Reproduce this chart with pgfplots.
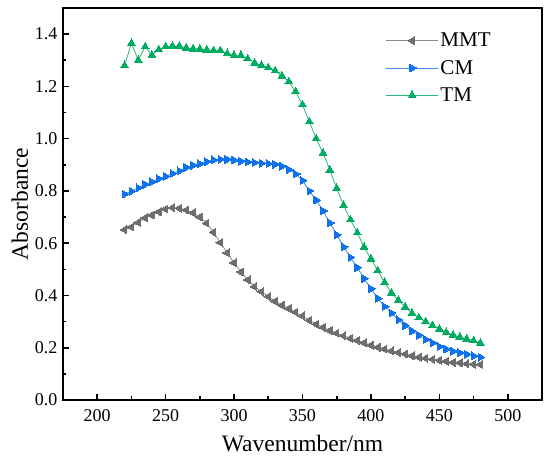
\documentclass[border=0pt]{standalone}
\usepackage{pgfplots}
\pgfplotsset{compat=1.18}
\usepackage{pgfplotstable}
\usepackage{fontspec}
\setmainfont{Liberation Serif}
\definecolor{cMMT}{RGB}{110,110,110}
\definecolor{cCM}{RGB}{16,114,232}
\definecolor{cTM}{RGB}{0,172,95}

\pgfplotstableread{
x y
220 0.652
225 0.662
230 0.680
235 0.697
240 0.708
245 0.720
250 0.731
255 0.736
260 0.734
265 0.727
270 0.717
275 0.700
280 0.677
285 0.642
290 0.603
295 0.563
300 0.525
305 0.490
310 0.460
315 0.434
320 0.415
325 0.396
330 0.378
335 0.363
340 0.350
345 0.336
350 0.322
355 0.305
360 0.290
365 0.278
370 0.266
375 0.256
380 0.246
385 0.236
390 0.228
395 0.219
400 0.210
405 0.202
410 0.195
415 0.188
420 0.182
425 0.176
430 0.169
435 0.164
440 0.160
445 0.156
450 0.152
455 0.148
460 0.144
465 0.142
470 0.139
475 0.137
480 0.136
}\mmt

\pgfplotstableread{
x y
220 0.788
225 0.799
230 0.812
235 0.825
240 0.835
245 0.847
250 0.856
255 0.867
260 0.877
265 0.890
270 0.898
275 0.904
280 0.912
285 0.919
290 0.921
295 0.921
300 0.918
305 0.914
310 0.911
315 0.909
320 0.906
325 0.905
330 0.902
335 0.895
340 0.882
345 0.865
350 0.840
355 0.800
360 0.765
365 0.724
370 0.678
375 0.632
380 0.586
385 0.546
390 0.507
395 0.465
400 0.426
405 0.389
410 0.358
415 0.333
420 0.307
425 0.285
430 0.264
435 0.248
440 0.232
445 0.219
450 0.205
455 0.195
460 0.187
465 0.181
470 0.175
475 0.169
480 0.164
}\cm

\pgfplotstableread{
x y
220 1.280
225 1.365
230 1.300
235 1.352
240 1.320
245 1.341
250 1.352
255 1.355
260 1.354
265 1.347
270 1.344
275 1.343
280 1.340
285 1.337
290 1.337
295 1.326
300 1.319
305 1.319
310 1.306
315 1.290
320 1.280
325 1.272
330 1.260
335 1.240
340 1.218
345 1.180
350 1.130
355 1.065
360 1.000
365 0.945
370 0.880
375 0.810
380 0.745
385 0.690
390 0.640
395 0.585
400 0.540
405 0.495
410 0.450
415 0.410
420 0.382
425 0.356
430 0.332
435 0.315
440 0.300
445 0.285
450 0.272
455 0.259
460 0.249
465 0.241
470 0.234
475 0.227
480 0.218
}\tm

\begin{document}
\begin{tikzpicture}
\useasboundingbox (-63pt,-61pt) rectangle (487pt,400pt);
\begin{axis}[
  at={(0pt,0pt)}, anchor=south west,
  scale only axis,
  width=479pt, height=392pt,
  xmin=175, xmax=525, ymin=0, ymax=1.5,
  xtick={200,250,...,500},
  ytick={0,0.2,...,1.41},
  minor x tick num=1, minor y tick num=1,
  tick align=inside,
  xtick pos=bottom, ytick pos=left,
  major tick length=6pt, minor tick length=3.5pt,
  every tick/.style={black, line width=1.6pt},
  axis line style={line width=1.6pt},
  /pgf/number format/assume math mode=true,
  yticklabel style={/pgf/number format/fixed, /pgf/number format/fixed zerofill, /pgf/number format/precision=1, font=\fontsize{18}{18}\selectfont, xshift=-2pt},
  xticklabel style={font=\fontsize{18}{18}\selectfont, yshift=-6pt},
  scaled y ticks=false,
  xlabel={Wavenumber/nm},
  ylabel={Absorbance},
  every axis x label/.style={at={(axis description cs:0.5,0)}, yshift=-52pt, anchor=base, font=\fontsize{23.5}{23.5}\selectfont},
  every axis y label/.style={at={(axis description cs:0,0.5)}, xshift=-35pt, rotate=90, anchor=base, font=\fontsize{23.5}{23.5}\selectfont},
  legend style={at={(0.667,0.947)}, anchor=north west, draw=none, fill=none,
    font=\fontsize{21}{21}\selectfont, row sep=8pt},
  legend cell align=left,
  legend image code/.code={\draw[mark repeat=2,mark phase=2] plot coordinates {(0pt,0pt) (26pt,0pt) (52pt,0pt)};},
  every axis plot/.append style={line width=0.8pt},
]
\addplot[color=cMMT!80, mark=triangle*, mark size=4.5pt, mark options={rotate=90, fill=cMMT, draw=cMMT, line width=0pt}] table {\mmt};
\addlegendentry{MMT}
\addplot[color=cCM!80, mark=triangle*, mark size=4.5pt, mark options={rotate=-90, fill=cCM, draw=cCM, line width=0pt}] table {\cm};
\addlegendentry{CM}
\addplot[color=cTM!85, mark=triangle*, mark size=4.5pt, mark options={fill=cTM, draw=cTM, line width=0pt}] table {\tm};
\addlegendentry{TM}
\end{axis}
\end{tikzpicture}
\end{document}
